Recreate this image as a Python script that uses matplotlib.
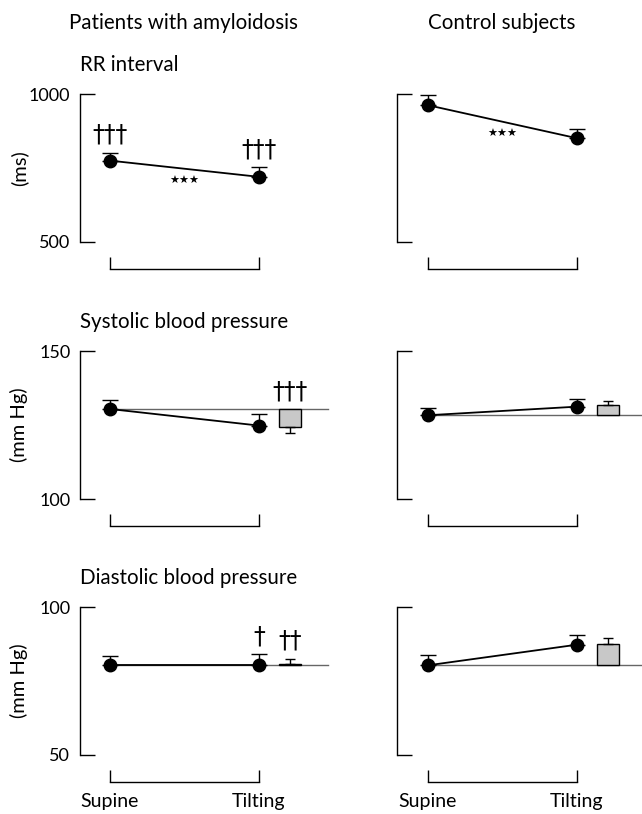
import matplotlib
matplotlib.use("Agg")
import matplotlib.pyplot as plt

plt.rcParams['font.family'] = ['Lato', 'DejaVu Sans']

# ---- data ----
conditions = ["Supine", "Tilting"]
columns = ["Patients with amyloidosis", "Control subjects"]
panel_titles = ["RR interval", "Systolic blood pressure", "Diastolic blood pressure"]
units = ["(ms)", "(mm Hg)", "(mm Hg)"]
ylims = [(500, 1000), (100, 150), (50, 100)]

rr_pat = [775, 720]
rr_pat_se = [27, 32]
rr_ctl = [963, 851]
rr_ctl_se = [36, 30]

sbp_pat = [130.4, 124.8]
sbp_pat_se = [2.9, 4.0]
sbp_pat_change = -6.1
sbp_pat_change_se = 2.1
sbp_ctl = [128.3, 131.2]
sbp_ctl_se = [2.6, 2.5]
sbp_ctl_change = 3.3
sbp_ctl_change_se = 1.6

dbp_pat = [80.4, 80.4]
dbp_pat_se = [2.9, 3.6]
dbp_pat_change = 0.4
dbp_pat_change_se = 1.7
dbp_ctl = [80.3, 87.3]
dbp_ctl_se = [3.5, 3.3]
dbp_ctl_change = 7.1
dbp_ctl_change_se = 2.3

# annotations: (row, col) -> list of (x, text)
daggers = {
    (0, 0): [(0, "†††"), (1, "†††")],
    (1, 0): [(1.21, "†††")],
    (2, 0): [(1, "†"), (1.21, "††")],
}
stars = {(0, 0): "★★★", (0, 1): "★★★"}

values = [[(rr_pat, rr_pat_se, None, None), (rr_ctl, rr_ctl_se, None, None)],
          [(sbp_pat, sbp_pat_se, sbp_pat_change, sbp_pat_change_se),
           (sbp_ctl, sbp_ctl_se, sbp_ctl_change, sbp_ctl_change_se)],
          [(dbp_pat, dbp_pat_se, dbp_pat_change, dbp_pat_change_se),
           (dbp_ctl, dbp_ctl_se, dbp_ctl_change, dbp_ctl_change_se)]]

# ---- layout (pixels) ----
W, H = 642, 814
fig = plt.figure(figsize=(W / 100, H / 100), dpi=100)

col_px = [(80, 328, 110, 259), (397.3, 642, 428, 577)]
row_px = [(94.3, 241.7), (351, 499), (607.3, 754.5)]
bar_x = 1.21
bar_w = 0.145

for r in range(3):
    ytop, ybot = row_px[r]
    for c in range(2):
        x0, x1, xs, xt = col_px[c]
        unit = xt - xs
        ax = fig.add_axes([x0 / W, 1 - ybot / H, (x1 - x0) / W, (ybot - ytop) / H])
        ax.set_xlim((x0 - xs) / unit, (x1 - xs) / unit)
        ax.set_ylim(*ylims[r])
        ax.patch.set_visible(False)
        for s in ["top", "right"]:
            ax.spines[s].set_visible(False)
        ax.spines["left"].set_bounds(*ylims[r])
        ax.spines["left"].set_linewidth(1.0)
        ax.spines["bottom"].set_bounds(0, 1)
        ax.spines["bottom"].set_position(("outward", 19.5))
        ax.spines["bottom"].set_linewidth(1.0)
        ax.set_yticks(list(ylims[r]))
        ax.set_xticks([0, 1])
        ax.tick_params(axis="y", direction="in", length=10.5, width=1.0, pad=7,
                       labelsize=13)
        ax.tick_params(axis="x", direction="in", length=9, width=1.0, pad=8,
                       labelsize=14)
        if c == 0:
            ax.set_yticklabels([str(v) for v in ylims[r]])
            ax.set_ylabel(units[r], fontsize=14.5)
            ax.yaxis.set_label_coords((28 - x0) / (x1 - x0), 0.5)
        else:
            ax.set_yticklabels([])
        if r == 2:
            ax.set_xticklabels(conditions)
        else:
            ax.set_xticklabels([])

        means, ses, change, change_se = values[r][c]
        xs_data = [0, 1]
        if change is not None:
            ax.plot([0, ax.get_xlim()[1]], [means[0], means[0]], color="#666666",
                    lw=1.0, clip_on=False, zorder=1)
            ax.bar(bar_x, change, bottom=means[0], width=bar_w, color="#c8c8c8",
                   edgecolor="black", linewidth=1.0, zorder=2)
            tip = means[0] + change
            if change >= 0:
                err = [[0], [change_se]]
            else:
                err = [[change_se], [0]]
            ax.errorbar([bar_x], [tip], yerr=err, fmt="none", ecolor="black",
                        elinewidth=1.0, capsize=3.8, capthick=1.0, zorder=2)
        ax.errorbar(xs_data, means, yerr=[[0, 0], ses], fmt="none", ecolor="black",
                    elinewidth=1.0, capsize=5.8, capthick=1.0, zorder=3)
        ax.plot(xs_data, means, color="black", lw=1.3, marker="o", markersize=9,
                zorder=4, clip_on=False)

        rng = ylims[r][1] - ylims[r][0]
        for (xd, txt) in daggers.get((r, c), []):
            if xd == bar_x:
                base = means[0] + max(change, 0) + (change_se if change > 0 else 0)
                base = max(base, means[0])
            else:
                base = means[int(xd)] + ses[int(xd)]
            ax.text(xd, base + rng * 0.04, txt, ha="center", va="bottom",
                    fontsize=17, family=["DejaVu Sans"])
        if (r, c) in stars:
            ax.text(0.5, (means[0] + means[1]) / 2 - rng * 0.08, stars[(r, c)],
                    ha="center", va="center", fontsize=8, family=["DejaVu Sans"])

# titles
fig.text(183 / W, 1 - 23 / H, columns[0], ha="center", va="center", fontsize=14.8)
fig.text(502 / W, 1 - 23 / H, columns[1], ha="center", va="center", fontsize=14.8)
for r, ypx in enumerate([65, 322, 578]):
    fig.text(80 / W, 1 - ypx / H, panel_titles[r], ha="left", va="center",
             fontsize=14.8)

fig.savefig("out.png", dpi=100)
